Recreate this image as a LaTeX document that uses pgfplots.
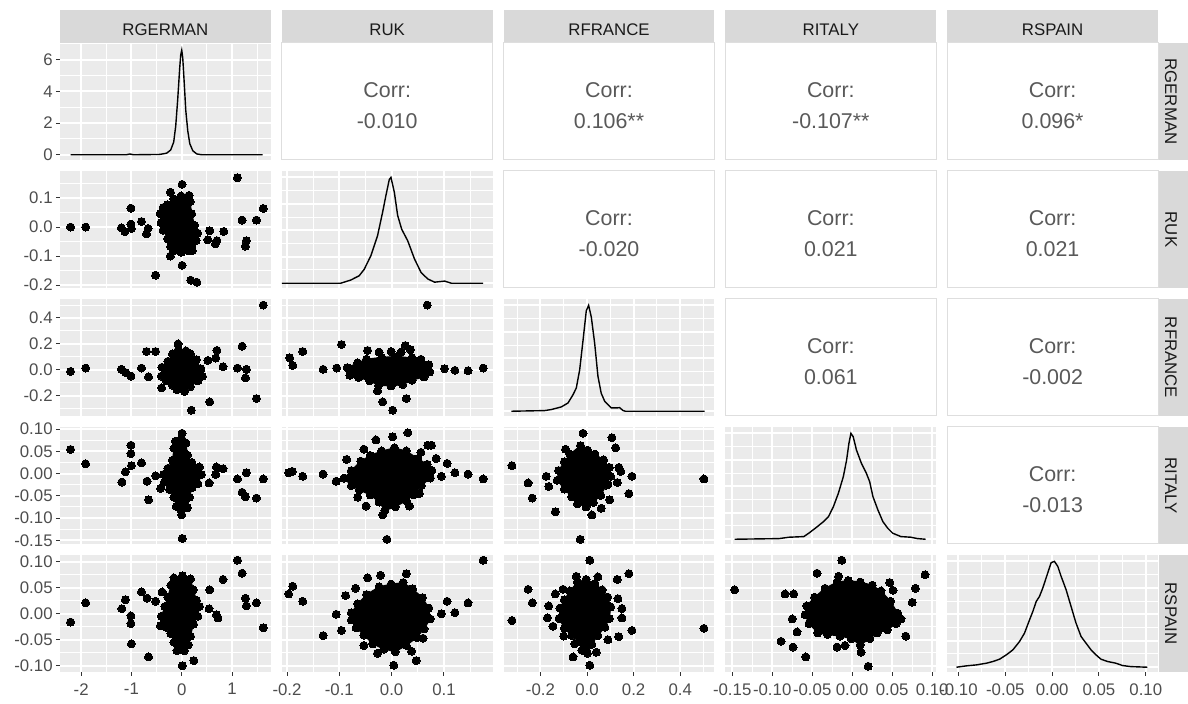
\documentclass[border=0pt]{standalone}
\usepackage{fontspec}
\setmainfont{Liberation Sans}
\usepackage{pgfplots}
\pgfplotsset{compat=1.18}

\definecolor{panelbg}{RGB}{235,235,235}
\definecolor{stripbg}{RGB}{217,217,217}
\definecolor{ticktext}{RGB}{77,77,77}
\definecolor{tickmark}{RGB}{51,51,51}
\definecolor{striptext}{RGB}{26,26,26}
\definecolor{corrtext}{RGB}{89,89,89}
\definecolor{bordercol}{RGB}{222,222,222}

\newcommand\tickfont{\fontsize{8.4}{10}\selectfont}
\newcommand\corrfont{\fontsize{10.7}{13}\selectfont}

\pgfplotsset{
  panel/.style={scale only axis, width=105.4pt, height=58.5pt, anchor=north west,
    axis background/.style={fill=panelbg}, axis line style={draw=none},
    grid=both, major grid style={white, line width=1pt}, minor grid style={white, line width=0.5pt},
    tick pos=left, tick align=outside, major tick length=2pt, minor tick length=0pt,
    tick style={line width=0.5pt},
    xtick style={draw=none}, ytick style={draw=none},
    xticklabels={}, yticklabels={},
    tick label style={font=\tickfont, text=ticktext, inner sep=1.5pt},
    xticklabel style={yshift=-2pt}},
  cA/.style={xmin=-2.42, xmax=1.77, xtick={-2,-1,0,1}, minor xtick={-1.5,-0.5,0.5,1.5}},
  cB/.style={xmin=-0.21, xmax=0.193, xtick={-0.2,-0.1,0,0.1}, minor xtick={-0.15,-0.05,0.05,0.15}},
  cC/.style={xmin=-0.358, xmax=0.547, xtick={-0.2,0,0.2,0.4}, minor xtick={-0.3,-0.1,0.1,0.3,0.5}},
  cD/.style={xmin=-0.1585, xmax=0.105, xtick={-0.15,-0.1,-0.05,0,0.05,0.1}, minor xtick={-0.125,-0.075,-0.025,0.025,0.075}},
  cE/.style={xmin=-0.112, xmax=0.113, xtick={-0.1,-0.05,0,0.05,0.1}, minor xtick={-0.075,-0.025,0.025,0.075}},
  rA/.style={ymin=-0.33, ymax=7.05, ytick={0,2,4,6}, minor ytick={1,3,5,7}},
  rB/.style={ymin=-0.21, ymax=0.193, ytick={-0.2,-0.1,0,0.1}, minor ytick={-0.15,-0.05,0.05,0.15}},
  rC/.style={ymin=-0.358, ymax=0.547, ytick={-0.2,0,0.2,0.4}, minor ytick={-0.3,-0.1,0.1,0.3,0.5}},
  rD/.style={ymin=-0.1585, ymax=0.105, ytick={-0.15,-0.1,-0.05,0,0.05,0.1}, minor ytick={-0.125,-0.075,-0.025,0.025,0.075}},
  rE/.style={ymin=-0.112, ymax=0.113, ytick={-0.1,-0.05,0,0.05,0.1}, minor ytick={-0.075,-0.025,0.025,0.075}},
  dens/.style={ymin=-0.045, ymax=1.06, ytick={0,0.25,0.5,0.75,1}, minor ytick={0.125,0.375,0.625,0.875}},
  ylabA/.style={yticklabels={0,2,4,6}, ytick style={draw=tickmark}},
  ylabB/.style={yticklabels={-0.2,-0.1,0.0,0.1}, ytick style={draw=tickmark}},
  ylabC/.style={yticklabels={-0.2,0.0,0.2,0.4}, ytick style={draw=tickmark}},
  ylabD/.style={yticklabels={-0.15,-0.10,-0.05,0.00,0.05,0.10}, ytick style={draw=tickmark}},
  ylabE/.style={yticklabels={-0.10,-0.05,0.00,0.05,0.10}, ytick style={draw=tickmark}},
  xlabA/.style={xticklabels={-2,-1,0,1}, xtick style={draw=tickmark}},
  xlabB/.style={xticklabels={-0.2,-0.1,0.0,0.1}, xtick style={draw=tickmark}},
  xlabC/.style={xticklabels={-0.2,0.0,0.2,0.4}, xtick style={draw=tickmark}},
  xlabD/.style={xticklabels={-0.15,-0.10,-0.05,0.00,0.05,0.10}, xtick style={draw=tickmark}},
  xlabE/.style={xticklabels={-0.10,-0.05,0.00,0.05,0.10}, xtick style={draw=tickmark}},
  pts/.style={only marks, mark=*, mark size=2pt, mark options={fill=black, draw=black, line width=0pt}},
  blob/.style={fill=black, draw=black, line width=0.5pt, line join=round, mark=*, mark size=2pt, mark options={fill=black, draw=black, line width=0pt}},
  dline/.style={black, line width=0.7pt, mark=none},
}

\newcommand\topstrip[2]{%
  \fill[stripbg] (#1pt,-5pt) rectangle ++(105.4pt,-16.5pt);
  \path (#1pt,-5pt) ++(52.7pt,-10pt) node[text=striptext, font=\tickfont, inner sep=0pt] {#2};}
\newcommand\rightstrip[2]{%
  \fill[stripbg] (579.5pt,#1pt) rectangle ++(14.5pt,-58.5pt);
  \path (579.5pt,#1pt) ++(6pt,-29.25pt) node[rotate=-90, text=striptext, font=\tickfont, inner sep=0pt] {#2};}
\newcommand\corr[3]{%
  \draw[bordercol, line width=0.5pt, fill=white] (#1pt,#2pt) rectangle ++(105.4pt,-58.5pt);
  \path (#1pt,#2pt) ++(52.7pt,-27.5pt) node[anchor=base, text=corrtext, font=\corrfont, inner sep=0pt] {Corr:};
  \path (#1pt,#2pt) ++(52.7pt,-43pt) node[anchor=base, text=corrtext, font=\corrfont, inner sep=0pt] {#3};}

\begin{document}
\begin{tikzpicture}
\useasboundingbox (0,0) rectangle (594pt,-352pt);

% strips
\topstrip{30}{RGERMAN}
\topstrip{140.9}{RUK}
\topstrip{251.8}{RFRANCE}
\topstrip{362.7}{RITALY}
\topstrip{473.6}{RSPAIN}
\rightstrip{-21.5}{RGERMAN}
\rightstrip{-85.5}{RUK}
\rightstrip{-149.5}{RFRANCE}
\rightstrip{-213.5}{RITALY}
\rightstrip{-277.5}{RSPAIN}

% correlation panels
\corr{140.9}{-21.5}{-0.010}
\corr{251.8}{-21.5}{0.106**}
\corr{362.7}{-21.5}{-0.107**}
\corr{473.6}{-21.5}{0.096*}
\corr{251.8}{-85.5}{-0.020}
\corr{362.7}{-85.5}{0.021}
\corr{473.6}{-85.5}{0.021}
\corr{362.7}{-149.5}{0.061}
\corr{473.6}{-149.5}{-0.002}
\corr{473.6}{-213.5}{-0.013}

% ---- column 1: RGERMAN
\begin{axis}[panel, cA, rA, ylabA, at={(30pt,-21.5pt)}]
\addplot[dline] coordinates {(-2.21,0) (-1.10,0) (-1.03,0.05) (-0.96,0) (-0.44,0.02) (-0.30,0.1) (-0.22,0.3) (-0.16,0.8) (-0.12,1.8) (-0.08,3.5) (-0.04,5.5) (-0.02,6.3) (0,6.6) (0.02,6.1) (0.05,4.5) (0.08,2.8) (0.12,1.5) (0.16,0.7) (0.22,0.25) (0.30,0.05) (0.40,0) (1.61,0)};
\end{axis}

\begin{axis}[panel, cA, rB, ylabB, at={(30pt,-85.5pt)}]
\addplot[blob] coordinates {(-0.281,0.077) (-0.161,0.097) (-0.012,0.107) (0.107,0.103) (0.167,0.087) (0.197,0.046) (0.256,0.0055) (0.316,-0.021) (0.286,-0.046) (0.197,-0.061) (0.137,-0.082) (-0.012,-0.087) (-0.161,-0.082) (-0.221,-0.067) (-0.281,-0.041) (-0.370,-0.011) (-0.412,0.015) (-0.430,0.046) (-0.370,0.067)} --cycle;
\addplot[pts] coordinates {(-2.21,0.000) (-1.91,0.000) (-1.20,-0.003) (-1.13,-0.016) (-1.01,0.065) (-1.01,0.010) (-1.00,-0.005) (-0.80,0.019) (-0.67,-0.005) (-0.70,-0.024) (-0.52,-0.166) (-0.225,0.120) (0.006,0.147) (-0.225,-0.100) (0.006,-0.132) (0.18,-0.183) (0.30,-0.190) (0.145,0.109) (0.557,-0.013) (0.835,-0.015) (0.52,-0.044) (0.70,-0.047) (0.67,-0.058) (0.21,-0.081) (1.107,0.170) (1.20,0.024) (1.285,-0.047) (1.266,-0.066) (1.485,0.024) (1.62,0.064)};
\end{axis}

\begin{axis}[panel, cA, rC, ylabC, at={(30pt,-149.5pt)}]
\addplot[blob] coordinates {(-0.393,0.019) (-0.275,0.065) (-0.185,0.122) (-0.066,0.157) (0.084,0.146) (0.173,0.122) (0.292,0.077) (0.382,0.007) (0.411,-0.050) (0.322,-0.086) (0.173,-0.131) (0.054,-0.167) (-0.095,-0.155) (-0.185,-0.120) (-0.304,-0.086) (-0.406,-0.050)} --cycle;
\addplot[pts] coordinates {(-2.21,-0.013) (-1.91,0.013) (-1.20,0.003) (-1.11,-0.023) (-1.01,-0.049) (-0.80,0.013) (-0.66,-0.056) (-0.70,0.141) (-0.52,0.141) (-0.40,-0.141) (-0.073,0.20) (0.19,-0.313) (0.557,-0.249) (0.52,0.072) (0.70,0.149) (0.676,0.090) (0.82,0.023) (1.107,0.013) (1.20,0.182) (1.285,0.003) (1.266,-0.064) (1.485,-0.223) (1.62,0.50)};
\end{axis}

\begin{axis}[panel, cA, rD, ylabD, at={(30pt,-213.5pt)}]
\addplot[blob] coordinates {(-0.125,0.073) (-0.006,0.080) (0.084,0.069) (0.113,0.042) (0.203,0.025) (0.352,0.015) (0.393,-0.002) (0.322,-0.023) (0.203,-0.032) (0.155,-0.053) (0.113,-0.077) (-0.006,-0.084) (-0.107,-0.074) (-0.155,-0.053) (-0.244,-0.036) (-0.346,-0.019) (-0.364,-0.002) (-0.275,0.012) (-0.185,0.030) (-0.155,0.057)} --cycle;
\addplot[pts] coordinates {(-2.21,0.0545) (-1.91,0.022) (-1.19,-0.019) (-1.12,0.004) (-1.01,0.064) (-1.01,0.045) (-1.00,0.018) (-0.80,0.024) (-0.69,-0.017) (-0.66,-0.059) (-0.52,-0.005) (-0.42,-0.033) (0.006,0.091) (0.01,-0.146) (0.0,-0.093) (0.543,-0.021) (0.69,0.015) (0.82,0.011) (0.676,-0.002) (1.107,-0.012) (1.285,0.002) (1.20,-0.042) (1.266,-0.052) (1.485,-0.055) (1.62,-0.012)};
\end{axis}

\begin{axis}[panel, cA, rE, ylabE, xlabA, at={(30pt,-277.5pt)}]
\addplot[blob] coordinates {(-0.155,0.069) (0.012,0.073) (0.173,0.067) (0.232,0.046) (0.292,0.026) (0.352,0.014) (0.322,-0.005) (0.232,-0.020) (0.173,-0.043) (0.131,-0.060) (0.054,-0.071) (-0.095,-0.071) (-0.155,-0.055) (-0.215,-0.038) (-0.304,-0.026) (-0.424,-0.023) (-0.406,-0.005) (-0.334,0.014) (-0.275,0.032) (-0.215,0.055)} --cycle;
\addplot[pts] coordinates {(-2.21,-0.016) (-1.91,0.021) (-1.19,0.0096) (-1.12,0.027) (-1.01,-0.004) (-1.01,-0.019) (-1.00,-0.058) (-0.80,0.042) (-0.69,0.030) (-0.52,0.024) (-0.66,-0.083) (-0.39,0.042) (0.01,-0.10) (0.24,-0.090) (0.557,0.046) (0.543,0.0096) (0.69,-0.002) (0.72,-0.008) (0.82,0.066) (1.107,0.103) (1.20,0.078) (1.266,0.030) (1.285,0.015) (1.485,0.021) (1.62,-0.027)};
\end{axis}

% ---- column 2: RUK
\begin{axis}[panel, cB, dens, at={(140.9pt,-85.5pt)}]
\addplot[dline] coordinates {(-0.212,0) (-0.0974,0) (-0.0782,0.03) (-0.0622,0.07) (-0.0526,0.13) (-0.0397,0.26) (-0.0269,0.45) (-0.0173,0.67) (-0.0109,0.83) (-0.0045,0.98) (-0.0013,1.0) (0.0051,0.86) (0.0115,0.64) (0.0192,0.51) (0.0308,0.40) (0.0436,0.23) (0.0564,0.10) (0.0692,0.04) (0.0821,0.01) (0.1013,0.02) (0.1141,0) (0.175,0)};
\end{axis}

\begin{axis}[panel, cB, rC, at={(140.9pt,-149.5pt)}]
\addplot[blob] coordinates {(-0.085,0.016) (-0.065,0.053) (-0.048,0.081) (-0.019,0.096) (0.010,0.103) (0.039,0.092) (0.056,0.081) (0.071,0.038) (0.073,-0.017) (0.062,-0.056) (0.039,-0.082) (0.021,-0.115) (-0.001,-0.126) (-0.025,-0.121) (-0.042,-0.087) (-0.063,-0.060) (-0.080,-0.043)} --cycle;
\addplot[pts] coordinates {(-0.195,0.092) (-0.189,0.033) (-0.170,0.141) (-0.131,0.003) (-0.105,0.013) (-0.096,0.195) (-0.046,0.149) (-0.024,0.136) (-0.001,0.141) (0.018,0.136) (0.026,0.187) (0.036,0.154) (0.068,0.50) (-0.027,-0.164) (-0.017,-0.249) (0.002,-0.313) (0.028,-0.223) (0.101,0.008) (0.121,-0.005) (0.146,-0.008) (0.175,0.013)};
\end{axis}

\begin{axis}[panel, cB, rD, at={(140.9pt,-213.5pt)}]
\addplot[blob] coordinates {(-0.091,-0.010) (-0.077,0.007) (-0.059,0.028) (-0.041,0.041) (-0.019,0.051) (0.005,0.058) (0.028,0.051) (0.050,0.034) (0.068,0.021) (0.077,0.007) (0.074,-0.010) (0.057,-0.027) (0.042,-0.048) (0.028,-0.061) (0.007,-0.075) (-0.013,-0.083) (-0.024,-0.064) (-0.041,-0.048) (-0.062,-0.037) (-0.077,-0.027)} --cycle;
\addplot[pts] coordinates {(-0.197,0.002) (-0.190,0.005) (-0.170,-0.006) (-0.131,-0.001) (-0.106,-0.017) (-0.086,0.032) (-0.065,-0.053) (-0.049,-0.073) (-0.053,0.055) (-0.030,0.076) (0.002,0.083) (0.031,0.092) (0.056,0.048) (0.069,0.064) (0.076,0.064) (0.085,0.034) (0.106,0.023) (0.095,-0.006) (0.121,0.002) (0.146,-0.001) (0.175,-0.012) (-0.009,-0.148) (-0.017,-0.093) (0.034,-0.073) (0.053,-0.045)};
\end{axis}

\begin{axis}[panel, cB, rE, xlabB, at={(140.9pt,-277.5pt)}]
\addplot[blob] coordinates {(-0.077,0.002) (-0.065,0.019) (-0.048,0.037) (-0.024,0.052) (-0.001,0.057) (0.022,0.060) (0.040,0.048) (0.059,0.031) (0.071,0.011) (0.074,-0.010) (0.062,-0.029) (0.048,-0.046) (0.028,-0.061) (0.007,-0.073) (-0.015,-0.068) (-0.036,-0.058) (-0.053,-0.041) (-0.068,-0.027) (-0.077,-0.012)} --cycle;
\addplot[pts] coordinates {(-0.197,0.038) (-0.189,0.053) (-0.170,0.024) (-0.131,-0.042) (-0.106,-0.001) (-0.096,-0.032) (-0.088,0.035) (-0.069,0.049) (-0.053,-0.061) (-0.046,0.069) (-0.021,0.074) (0.028,0.077) (0.004,-0.099) (0.047,-0.090) (0.038,-0.072) (0.060,-0.047) (0.106,0.024) (0.095,0.000) (0.121,0.002) (0.146,0.021) (0.175,0.103) (-0.027,-0.076)};
\end{axis}

% ---- column 3: RFRANCE
\begin{axis}[panel, cC, dens, at={(251.8pt,-149.5pt)}]
\addplot[dline] coordinates {(-0.325,0) (-0.182,0.006) (-0.153,0.016) (-0.110,0.041) (-0.0815,0.078) (-0.060,0.156) (-0.046,0.219) (-0.0315,0.39) (-0.017,0.67) (-0.003,0.95) (0.007,1.0) (0.0185,0.89) (0.033,0.64) (0.047,0.33) (0.061,0.17) (0.076,0.094) (0.104,0.031) (0.126,0.031) (0.140,0.034) (0.155,0.006) (0.165,0) (0.505,0)};
\end{axis}

\begin{axis}[panel, cC, rD, at={(251.8pt,-213.5pt)}]
\addplot[blob] coordinates {(-0.073,0.044) (-0.028,0.063) (0.002,0.053) (0.034,0.044) (0.071,0.031) (0.096,0.014) (0.102,-0.006) (0.083,-0.026) (0.059,-0.049) (0.027,-0.065) (-0.004,-0.075) (-0.041,-0.068) (-0.066,-0.052) (-0.097,-0.035) (-0.128,-0.015) (-0.122,0.007) (-0.097,0.027)} --cycle;
\addplot[pts] coordinates {(-0.322,0.018) (-0.253,-0.021) (-0.235,-0.055) (-0.175,-0.006) (-0.164,-0.029) (-0.136,-0.086) (-0.092,0.055) (-0.017,0.091) (-0.029,-0.148) (0.107,0.081) (0.123,0.058) (0.137,0.014) (0.145,0.005) (0.193,-0.006) (0.180,-0.045) (0.097,-0.059) (0.061,-0.078) (0.021,-0.093) (0.090,-0.024) (0.130,-0.020) (0.502,-0.012)};
\end{axis}

\begin{axis}[panel, cC, rE, xlabC, at={(251.8pt,-277.5pt)}]
\addplot[blob] coordinates {(-0.073,0.044) (-0.041,0.061) (-0.004,0.066) (0.034,0.058) (0.065,0.046) (0.089,0.032) (0.102,0.013) (0.096,-0.009) (0.077,-0.026) (0.046,-0.042) (0.021,-0.059) (0.002,-0.076) (-0.022,-0.070) (-0.035,-0.054) (-0.066,-0.042) (-0.097,-0.028) (-0.120,-0.009) (-0.116,0.011) (-0.097,0.027)} --cycle;
\addplot[pts] coordinates {(-0.322,-0.013) (-0.253,0.047) (-0.235,0.021) (-0.164,0.015) (-0.170,-0.008) (-0.146,-0.024) (-0.100,-0.043) (-0.136,0.038) (-0.103,0.047) (-0.046,0.072) (0.012,0.103) (0.047,0.071) (0.130,0.066) (0.180,0.077) (0.133,0.029) (0.150,0.010) (0.150,-0.008) (0.193,-0.032) (0.136,-0.044) (0.090,-0.050) (-0.060,-0.083) (0.012,-0.099) (0.040,-0.074) (-0.053,-0.058) (0.502,-0.028)};
\end{axis}

% ---- column 4: RITALY
\begin{axis}[panel, cD, dens, at={(362.7pt,-213.5pt)}]
\addplot[dline] coordinates {(-0.1469,0) (-0.0914,0.006) (-0.0790,0.019) (-0.0605,0.025) (-0.0543,0.057) (-0.0461,0.104) (-0.0358,0.167) (-0.0296,0.214) (-0.0235,0.308) (-0.0173,0.434) (-0.0111,0.591) (-0.0070,0.748) (-0.0041,0.906) (-0.0016,1.0) (0.0012,0.969) (0.0053,0.843) (0.0115,0.717) (0.0177,0.623) (0.0218,0.544) (0.0259,0.403) (0.0321,0.277) (0.0383,0.167) (0.0444,0.104) (0.0506,0.057) (0.0609,0.025) (0.0733,0.019) (0.0815,0.006) (0.0917,0)};
\end{axis}

\begin{axis}[panel, cD, rE, xlabD, at={(362.7pt,-277.5pt)}]
\addplot[blob] coordinates {(-0.057,0.015) (-0.047,0.032) (-0.034,0.049) (-0.019,0.061) (-0.005,0.064) (0.010,0.061) (0.025,0.055) (0.036,0.044) (0.048,0.024) (0.057,0.001) (0.055,-0.019) (0.044,-0.031) (0.031,-0.037) (0.022,-0.048) (0.010,-0.060) (-0.001,-0.048) (-0.015,-0.043) (-0.031,-0.040) (-0.043,-0.037) (-0.054,-0.019) (-0.059,-0.002)} --cycle;
\addplot[pts] coordinates {(-0.147,0.046) (-0.089,-0.053) (-0.074,-0.064) (-0.058,-0.083) (-0.084,0.038) (-0.073,0.038) (-0.069,-0.035) (-0.075,-0.010) (-0.044,0.078) (-0.013,0.103) (-0.017,0.072) (-0.019,-0.064) (-0.009,-0.061) (0.011,-0.074) (0.020,-0.101) (0.047,0.060) (0.051,0.045) (0.067,-0.043) (0.075,0.022) (0.079,0.049) (0.091,0.075) (0.061,-0.010)};
\end{axis}

% ---- column 5: RSPAIN
\begin{axis}[panel, cE, dens, xlabE, at={(473.6pt,-277.5pt)}]
\addplot[dline] coordinates {(-0.1021,0) (-0.0915,0.013) (-0.0809,0.022) (-0.0702,0.038) (-0.0632,0.054) (-0.0561,0.076) (-0.0489,0.117) (-0.0419,0.164) (-0.0348,0.243) (-0.0295,0.322) (-0.0241,0.448) (-0.0206,0.527) (-0.0170,0.621) (-0.0135,0.669) (-0.0100,0.748) (-0.0047,0.890) (-0.0011,0.987) (0.0024,1.0) (0.0060,0.953) (0.0096,0.858) (0.0149,0.732) (0.0202,0.574) (0.0255,0.416) (0.0309,0.290) (0.0362,0.227) (0.0415,0.164) (0.0468,0.117) (0.0521,0.076) (0.0592,0.054) (0.0681,0.038) (0.0751,0.016) (0.0840,0.006) (0.1017,0)};
\end{axis}

\end{tikzpicture}
\end{document}
